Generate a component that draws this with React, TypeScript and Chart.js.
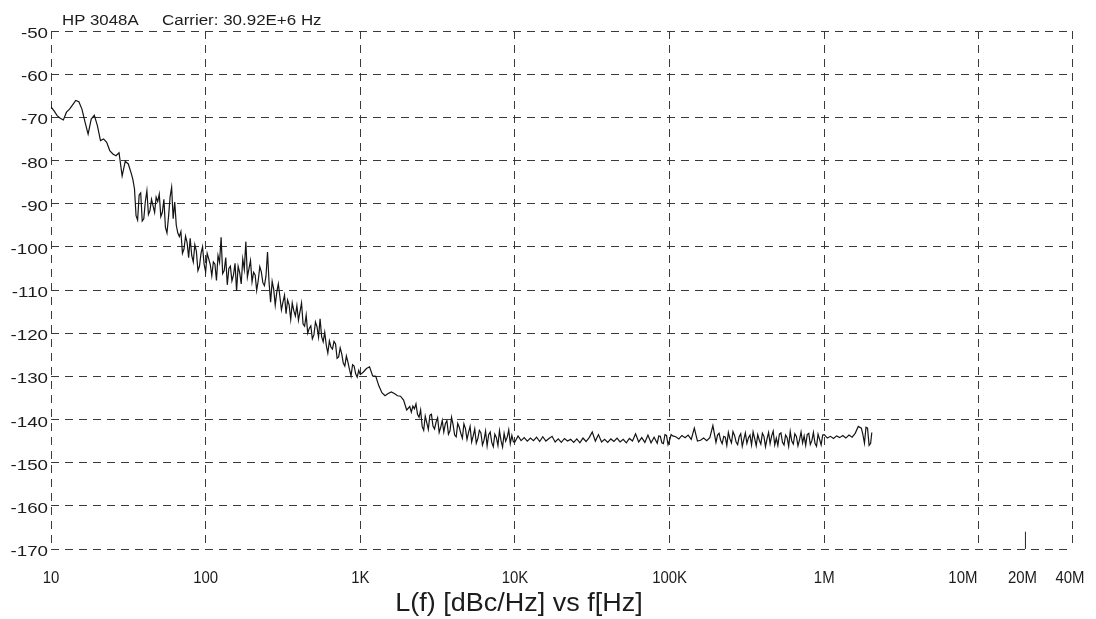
import React, { useEffect, useRef } from "react";
import { Chart, registerables } from "chart.js";

Chart.register(...registerables);

// ---------- data ----------
const headerLeft = "HP 3048A";
const headerRight = "Carrier: 30.92E+6 Hz";
const xTitle = "L(f) [dBc/Hz] vs f[Hz]";

const xTickValues = [10, 100, 1000, 10000, 100000, 1000000, 10000000, 20000000, 40000000];
const xTickLabels = ["10", "100", "1K", "10K", "100K", "1M", "10M", "20M", "40M"];
const yTickValues = [-50, -60, -70, -80, -90, -100, -110, -120, -130, -140, -150, -160, -170];

// frequency multipliers inside one decade (main sweep points)
const freqSteps = [
  1.0, 1.047, 1.096, 1.148, 1.202, 1.259, 1.318, 1.38, 1.445, 1.514,
  1.585, 1.66, 1.738, 1.82, 1.905, 1.995, 2.089, 2.188, 2.291, 2.399,
  2.512, 2.63, 2.754, 2.884, 3.02, 3.162, 3.311, 3.467, 3.631, 3.802,
  3.981, 4.169, 4.365, 4.571, 4.786, 5.012, 5.248, 5.495, 5.754, 6.026,
  6.31, 6.607, 6.918, 7.244, 7.586, 7.943, 8.318, 8.71, 9.12, 9.55,
];
// frequency multipliers of the in-between points (dense noisy parts)
const freqHalfSteps = [
  1.023, 1.072, 1.122, 1.175, 1.23, 1.288, 1.349, 1.413, 1.479, 1.549,
  1.622, 1.698, 1.778, 1.862, 1.95, 2.042, 2.138, 2.239, 2.344, 2.455,
  2.57, 2.692, 2.818, 2.951, 3.09, 3.236, 3.388, 3.548, 3.715, 3.89,
  4.074, 4.266, 4.467, 4.677, 4.898, 5.129, 5.37, 5.623, 5.888, 6.166,
  6.457, 6.761, 7.079, 7.413, 7.762, 8.128, 8.511, 8.913, 9.333, 9.772,
];
const decadeStarts = [10, 100, 1000, 10000, 100000, 1000000];

// L(f) in dBc/Hz at the main sweep points, per decade
const level10Hz = [
  -67.6, -68.5, -69.6, -70.2, -70.6, -68.8, -68.1, -67.1, -66.1, -66.4,
  -68.1, -71.1, -73.9, -70.4, -69.5, -71.9, -75.4, -75.0, -75.8, -77.7,
  -78.5, -78.9, -78.2, -83.6, -80.2, -80.8, -83.1, -86.6, -93.8, -87.5,
  -93.5, -87.0, -91.6, -90.5, -88.5, -87.8, -92.0, -95.5, -93.0, -86.2,
  -89.6, -96.8, -96.5, -100.5, -99.0, -98.0, -103.5, -101.0, -104.5, -100.0,
];
const level100Hz = [
  -105.8, -102.8, -106.7, -104.0, -102.0, -97.8, -105.5, -108.8, -104.5, -106.5,
  -110.2, -106.0, -102.8, -98.8, -105.1, -108.1, -106.5, -107.8, -105.8, -109.0,
  -101.2, -112.8, -109.8, -110.5, -111.5, -112.8, -115.5, -113.5, -113.0, -116.0,
  -117.0, -113.0, -118.4, -120.0, -118.3, -120.4, -118.5, -116.7, -122.0, -122.8,
  -121.8, -123.7, -122.5, -125.5, -124.8, -127.6, -126.7, -129.9, -127.6, -130.2,
];
const level1kHz = [
  -129.6, -129.0, -128.2, -127.8, -129.9, -130.0, -132.2, -133.8, -134.5, -134.0,
  -133.6, -134.0, -134.5, -134.6, -135.5, -137.8, -137.0, -136.9, -136.4, -139.5,
  -141.6, -139.2, -142.3, -138.8, -142.2, -139.6, -141.8, -142.9, -140.3, -142.6,
  -141.2, -144.0, -141.8, -144.3, -142.1, -143.0, -145.2, -142.2, -144.4, -143.1,
  -144.8, -146.1, -142.9, -146.3, -144.2, -142.6, -146.4, -145.0, -142.4, -143.7,
];
const level10kHz = [
  -145.2, -143.8, -144.9, -144.2, -145.0, -144.3, -144.9, -144.1, -145.1, -144.0,
  -145.0, -144.4, -143.9, -145.2, -144.5, -145.3, -144.4, -145.0, -144.6, -145.3,
  -144.5, -145.4, -144.3, -145.1, -144.2, -142.9, -145.0, -143.5, -145.2, -144.6,
  -145.3, -144.5, -145.1, -144.3, -145.2, -144.6, -145.4, -144.4, -145.0, -143.3,
  -145.2, -144.2, -145.3, -143.6, -145.4, -144.1, -145.5, -143.9, -145.6, -143.7,
];
const level100kHz = [
  -144.8, -143.8, -144.0, -144.5, -143.7, -144.2, -143.6, -144.6, -142.0, -145.0,
  -144.8, -144.3, -144.9, -144.2, -141.4, -145.3, -143.2, -145.6, -144.1, -143.0,
  -145.4, -143.7, -145.8, -143.3, -144.6, -145.5, -143.6, -142.9, -146.1, -144.8,
  -143.2, -146.3, -143.0, -143.8, -145.9, -146.0, -143.1, -145.9, -144.2, -142.8,
  -145.7, -143.9, -144.7, -145.4, -146.0, -143.2, -144.9, -145.5, -143.4, -145.9,
];
const level1MHz = [
  -143.5, -144.3, -143.9, -144.4, -143.8, -144.2, -143.7, -144.3, -143.6, -144.1,
  -143.2, -141.6, -142.0, -145.5, -142.0, -145.5,
];

// L(f) at the in-between points (null where the trace is smooth)
const half10Hz = [
  null, null, null, null, null, null, null, null, null, null,
  null, null, null, null, null, null, null, null, null, null,
  null, null, null, null, null, null, -84.5, -92.8, -88.0, -94.0,
  -89.5, -92.5, -89.0, -92.0, -89.5, -93.0, -89.0, -96.8, -88.5, -93.5,
  -95.0, -97.6, -101.5, -97.5, -102.5, -102.0, -99.5, -105.5, -101.5, -104.0,
];
const half100Hz = [
  -101.5, -104.2, -103.5, -107.8, -103.6, -106.2, -102.5, -105.0, -107.9, -103.8,
  -104.5, -108.6, -105.2, -107.0, -103.2, -105.9, -110.1, -104.6, -108.3, -106.8,
  -108.2, -108.0, -113.5, -108.6, -114.6, -111.2, -112.3, -116.8, -114.8, -113.6,
  -115.0, -117.9, -115.8, -118.9, -121.3, -117.4, -120.9, -120.8, -119.8, -124.6,
  -123.2, -121.9, -125.8, -123.4, -126.9, -125.3, -128.4, -127.3, -129.4, -128.6,
];
const half1kHz = [
  null, null, null, null, null, null, null, null, null, null,
  null, null, null, null, null, null, -138.3, -137.5, -138.8, -137.8,
  -142.5, -140.8, -139.0, -141.5, -140.6, -143.0, -140.2, -141.0, -143.4, -139.5,
  -143.6, -140.9, -143.2, -141.0, -144.6, -141.6, -143.8, -145.5, -142.5, -145.9,
  -142.7, -143.5, -145.3, -143.4, -146.0, -144.9, -143.2, -144.1, -145.6, -145.2,
];
const half10kHz = [
  null, null, null, null, null, null, null, null, null, null,
  null, null, null, null, null, null, null, null, null, null,
  null, null, null, null, null, null, null, null, null, null,
  null, null, null, null, null, null, null, null, null, null,
  null, null, null, null, null, null, -143.8, -145.4, -143.5, -145.8,
];
const half100kHz = [
  -143.5, null, null, null, null, null, null, null, null, null,
  null, null, null, null, null, -143.6, -144.8, -143.9, -146.0, -144.5,
  -142.8, -145.2, -144.0, -146.2, -143.1, -144.2, -145.9, -144.4, -143.5, -145.7,
  -143.9, -144.5, -145.6, -142.7, -144.3, -143.4, -145.3, -143.6, -146.2, -145.0,
  -143.3, -146.1, -142.9, -143.8, -143.5, -145.8, -143.0, -146.2, -144.6, -143.6,
];
const half1MHz = [
  null, null, null, null, null, null, null, null, null, null,
  null, null, -143.5, -141.8, -146.0,
];
const tailFreq = [2030000];
const tailLevel = [-143.0];

// small marker at 20 MHz on the floor
const markerFreq = [20000000, 20000000];
const markerLevel = [-170, -166];

// ---------- helpers ----------
function buildTrace() {
  const mainByDecade = [level10Hz, level100Hz, level1kHz, level10kHz, level100kHz, level1MHz];
  const halfByDecade = [half10Hz, half100Hz, half1kHz, half10kHz, half100kHz, half1MHz];
  const pts: { x: number; y: number }[] = [];
  mainByDecade.forEach((levels, d) => {
    levels.forEach((v, k) => pts.push({ x: decadeStarts[d] * freqSteps[k], y: v }));
  });
  halfByDecade.forEach((levels, d) => {
    levels.forEach((v, k) => {
      if (v !== null) pts.push({ x: decadeStarts[d] * freqHalfSteps[k], y: v as number });
    });
  });
  tailFreq.forEach((f, i) => pts.push({ x: f, y: tailLevel[i] }));
  pts.sort((a, b) => a.x - b.x);
  return pts;
}

const FONT = '"Liberation Sans", Arial, sans-serif';

function drawText(
  ctx: CanvasRenderingContext2D,
  text: string,
  x: number,
  y: number,
  size: number,
  stretch: number,
  align: CanvasTextAlign
) {
  ctx.save();
  ctx.font = `${size}px ${FONT}`;
  ctx.textAlign = align;
  ctx.textBaseline = "alphabetic";
  ctx.translate(x, y);
  ctx.scale(stretch, 1);
  ctx.fillText(text, 0, 0);
  ctx.restore();
}

const textPlugin = {
  id: "hpTexts",
  afterDraw(chart: any) {
    const ctx: CanvasRenderingContext2D = chart.ctx;
    const xs = chart.scales.x;
    const ys = chart.scales.y;
    const area = chart.chartArea;
    ctx.save();
    ctx.fillStyle = "#1c1c1c";
    drawText(ctx, headerLeft, 62, 25, 14, 1.2, "left");
    drawText(ctx, headerRight, 162, 25, 14, 1.21, "left");
    yTickValues.forEach((v) => {
      drawText(ctx, String(v), area.left - 3, ys.getPixelForValue(v) + 7, 15, 1.25, "right");
    });
    const shifts: Record<string, number> = { "10M": -16, "20M": -3, "40M": -2 };
    xTickValues.forEach((v, i) => {
      const lab = xTickLabels[i];
      drawText(ctx, lab, xs.getPixelForValue(v) + (shifts[lab] || 0), 583, 17, 0.88, "center");
    });
    drawText(ctx, xTitle, 519, 611, 25, 1.08, "center");
    ctx.restore();
  },
};

export default function App() {
  const canvasRef = useRef<HTMLCanvasElement | null>(null);

  useEffect(() => {
    document.body.style.margin = "0";
    const canvas = canvasRef.current;
    if (!canvas) return;
    const gridColor = "#3a3a3a";
    const chart = new Chart(canvas, {
      type: "line",
      data: {
        datasets: [
          {
            data: buildTrace(),
            borderColor: "#141414",
            borderWidth: 1.2,
            pointRadius: 0,
            tension: 0,
          },
          {
            data: markerFreq.map((f, i) => ({ x: f, y: markerLevel[i] })),
            borderColor: "#262626",
            borderWidth: 1,
            pointRadius: 0,
          },
        ],
      },
      options: {
        responsive: false,
        devicePixelRatio: 1,
        animation: false,
        events: [],
        layout: { padding: { top: 31, right: 24, left: 0, bottom: 0 } },
        plugins: {
          legend: { display: false },
          tooltip: { enabled: false },
          title: { display: false },
        },
        scales: {
          x: {
            type: "logarithmic",
            min: 10,
            max: 40000000,
            afterBuildTicks: (scale: any) => {
              scale.ticks = xTickValues.map((v) => ({ value: v }));
            },
            afterFit: (scale: any) => {
              scale.height = 70;
            },
            ticks: { display: false, autoSkip: false },
            grid: {
              drawTicks: false,
              lineWidth: 1,
              color: (c: any) =>
                c.tick && c.tick.value === 20000000 ? "rgba(0,0,0,0)" : gridColor,
            },
            border: { display: false, dash: [8, 6] },
          },
          y: {
            type: "linear",
            min: -170,
            max: -50,
            afterBuildTicks: (scale: any) => {
              scale.ticks = yTickValues.map((v) => ({ value: v }));
            },
            afterFit: (scale: any) => {
              scale.width = 51;
            },
            ticks: { display: false },
            grid: { drawTicks: false, lineWidth: 1, color: gridColor },
            border: { display: false, dash: [8, 6] },
          },
        },
      },
      plugins: [textPlugin],
    });
    return () => chart.destroy();
  }, []);

  return (
    <div style={{ width: 1096, height: 619, background: "#fff" }}>
      <canvas ref={canvasRef} width={1096} height={619} style={{ display: "block", width: 1096, height: 619 }} />
    </div>
  );
}
